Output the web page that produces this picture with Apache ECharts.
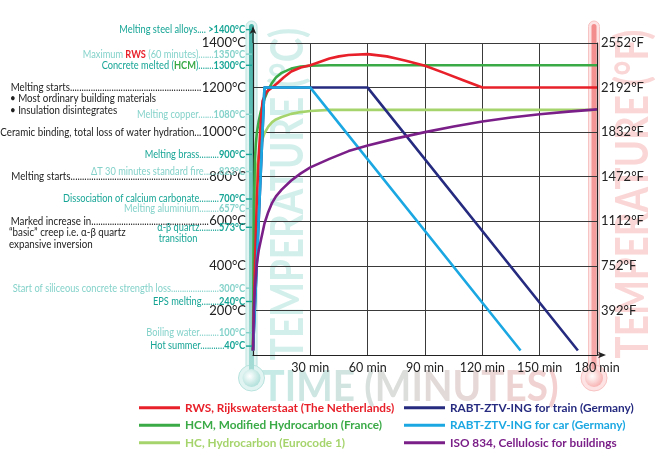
<!DOCTYPE html>
<html>
<head>
<meta charset="utf-8">
<script src="https://cdn.jsdelivr.net/npm/echarts@6/dist/echarts.min.js"></script>
<style>
  html, body { margin: 0; padding: 0; background: #fff; }
  #chart { width: 655px; height: 473px; }
</style>
</head>
<body>
<div id="chart"></div>
<script>
const FONT = 'Lato, "Noto Sans", sans-serif';

// time (min) / temperature (°C)
const rwsTime = [0, 1, 2, 3, 4, 5, 7, 10, 13, 16, 20, 25, 30, 40, 45, 50, 60, 70, 75, 80, 90, 100, 110, 120, 180];
const rwsTemp = [20, 400, 700, 890, 1040, 1140, 1180, 1200, 1222, 1245, 1272, 1290, 1300, 1330, 1340, 1346, 1350, 1340, 1330, 1320, 1298, 1266, 1233, 1200, 1200];

const hcmTime = [0, 0.5, 1, 1.5, 2, 3, 4, 5, 6, 8, 10, 12, 15, 20, 25, 30, 40, 180];
const hcmTemp = [20, 670, 877, 950, 996, 1050, 1090, 1120, 1150, 1190, 1222, 1245, 1266, 1285, 1294, 1298, 1300, 1300];

const hcTime = [0, 0.5, 1, 1.5, 2, 3, 4, 5, 6, 8, 10, 12, 15, 20, 25, 30, 40, 180];
const hcTemp = [20, 570, 740, 800, 845, 890, 935, 970, 995, 1025, 1045, 1057, 1068, 1082, 1090, 1095, 1100, 1100];

const trainTime = [0, 6, 60, 170];
const trainTemp = [20, 1200, 1200, 20];

const carTime = [0, 6, 30, 140];
const carTemp = [20, 1200, 1200, 20];

const isoTime = [0, 0.5, 1, 2, 3, 4, 5, 6, 8, 10, 12, 15, 20, 25, 30, 40, 50, 60, 75, 90, 105, 120, 135, 150, 165, 180];
const isoTemp = [20, 200, 300, 410, 470, 510, 550, 590, 642, 683, 712, 742, 783, 815, 842, 880, 915, 940, 972, 1000, 1025, 1048, 1066, 1080, 1092, 1102];

const timeLabels = ['', '30 min', '60 min', '90 min', '120 min', '150 min', '180 min'];
const celsiusLabels = ['', '200°C', '400°C', '600°C', '800°C', '1000°C', '1200°C', '1400°C'];
const fahrenheitLabels = ['', '392°F', '752°F', '1112°F', '1472°F', '1832°F', '2192°F', '2552°F'];

const seriesNames = [
  'RWS, Rijkswaterstaat (The Netherlands)',
  'HCM, Modified Hydrocarbon (France)',
  'HC, Hydrocarbon (Eurocode 1)',
  'RABT-ZTV-ING for train (Germany)',
  'RABT-ZTV-ING for car (Germany)',
  'ISO 834, Cellulosic for buildings'
];
const seriesColors = ['#e8202a', '#3aaa47', '#a6d46c', '#262b80', '#1ba8e2', '#7b1f88'];

// notes beside the °C axis: [temperature, text, value, shade]
const tealNotes = [
  [1460, 'Melting steel alloys.... ', '>1400°C', 'dark'],
  [1350, 'Maximum {r|RWS} (60 minutes).......', '1350°C', 'light'],
  [1300, 'Concrete melted ({g|HCM}).......', '1300°C', 'dark'],
  [1080, 'Melting copper.......', '1080°C', 'light'],
  [900, 'Melting brass.........', '900°C', 'dark'],
  [823, 'ΔT 30 minutes standard fire.......', '823°C', 'light'],
  [700, 'Dissociation of calcium carbonate.........', '700°C', 'dark'],
  [657, 'Melting aluminium.........', '657°C', 'light'],
  [573, 'α-β quartz.........', '573°C', 'dark'],
  [300, 'Start of siliceous concrete strength loss......................', '300°C', 'light'],
  [240, 'EPS melting........', '240°C', 'dark'],
  [100, 'Boiling water.........', '100°C', 'light'],
  [40, 'Hot summer...........', '40°C', 'dark']
];
// black notes running up to the axis labels: [temperature, text, extra lines]
const blackNotes = [
  [1200, 'Melting starts', ['• Most ordinary building materials', '• Insulation disintegrates']],
  [1000, 'Ceramic binding, total loss of water hydration', []],
  [800, 'Melting starts', []],
  [600, 'Marked increase in', ['“basic” creep i.e. α-β quartz', 'expansive inversion']]
];

const TEAL = { dark: '#17a596', light: '#84d2ca' };
const GRID = { left: 253, right: 58, top: 43, bottom: 118 };
const NARROW = 0.88;      // teal notes are set narrower than Lato
const BLACK_SCALE = 0.93; // black notes are a little wider

const chart = echarts.init(document.getElementById('chart'));

function pairs(xs, ys) {
  return xs.map((x, i) => [x, ys[i]]);
}

const lineData = [
  pairs(rwsTime, rwsTemp), pairs(hcmTime, hcmTemp), pairs(hcTime, hcTemp),
  pairs(trainTime, trainTemp), pairs(carTime, carTemp), pairs(isoTime, isoTemp)
];
const drawOrder = [2, 1, 0, 3, 4, 5];

const series = drawOrder.map((i) => ({
  name: seriesNames[i],
  type: 'line',
  data: lineData[i],
  showSymbol: false,
  symbol: 'none',
  color: seriesColors[i],
  lineStyle: { width: 2.6, color: seriesColors[i], join: 'round' },
  z: 3
}));

function legendItems(idx) {
  return idx.map((i) => ({ name: seriesNames[i], textStyle: { color: seriesColors[i] } }));
}

const legendBase = {
  orient: 'vertical',
  top: 401,
  padding: 0,
  icon: 'rect',
  itemWidth: 41,
  itemHeight: 3,
  itemGap: 4,
  selectedMode: false,
  textStyle: { fontFamily: FONT, fontSize: 11.8, fontWeight: 'bold', lineHeight: 13.5 }
};

const option = {
  animation: false,
  grid: GRID,
  legend: [
    Object.assign({}, legendBase, { left: 139, data: legendItems([0, 1, 2]) }),
    Object.assign({}, legendBase, { left: 404, data: legendItems([3, 4, 5]) })
  ],
  xAxis: {
    type: 'value',
    min: 0,
    max: 180,
    interval: 30,
    axisLine: {
      show: true,
      lineStyle: { color: '#222', width: 1.2 },
      symbol: ['none', 'arrow'],
      symbolSize: [5, 8],
      symbolOffset: [0, 9]
    },
    axisTick: { show: false },
    axisLabel: {
      fontFamily: FONT, fontSize: 12.5, color: '#222', margin: 6,
      formatter: (v) => timeLabels[Math.round(v / 30)]
    },
    splitLine: { show: true, lineStyle: { color: '#3a3a3a', width: 1 } }
  },
  yAxis: [
    {
      type: 'value',
      min: 0,
      max: 1400,
      interval: 200,
      axisLine: {
        show: true,
        lineStyle: { color: '#222', width: 1.2 },
        symbol: ['none', 'arrow'],
        symbolSize: [5, 8],
        symbolOffset: [0, 17]
      },
      axisTick: { show: false },
      axisLabel: {
        fontFamily: FONT, fontSize: 13, color: '#222', margin: 7,
        formatter: (v) => celsiusLabels[Math.round(v / 200)]
      },
      splitLine: { show: true, lineStyle: { color: '#3a3a3a', width: 1 } }
    },
    {
      type: 'value',
      position: 'right',
      min: 0,
      max: 1400,
      interval: 200,
      axisLine: { show: true, lineStyle: { color: '#222', width: 1.2 } },
      axisTick: { show: false },
      axisLabel: {
        fontFamily: FONT, fontSize: 13, color: '#222', margin: 4,
        formatter: (v) => fahrenheitLabels[Math.round(v / 200)]
      },
      splitLine: { show: false }
    }
  ],
  series: series
};

chart.setOption(option);

// ---- decorations and notes ----
const ctx = document.createElement('canvas').getContext('2d');
function textWidth(str, font) {
  ctx.font = font;
  return ctx.measureText(str).width;
}
const yPx = (t) => chart.convertToPixel({ yAxisIndex: 0 }, t);

const x0 = GRID.left;
const x1 = 655 - GRID.right;
const yBottom = 473 - GRID.bottom;
const yTop = GRID.top;

const graphics = [];

// faded big titles
graphics.push({
  type: 'text', x: 288, y: 194, rotation: Math.PI / 2, scaleX: 0.82, z: -20,
  style: { text: 'TEMPERATURE (°C)', font: 'bold 45px ' + FONT, fill: '#d3efeb', align: 'center', verticalAlign: 'middle' }
});
graphics.push({
  type: 'text', x: 633, y: 194, rotation: Math.PI / 2, scaleX: 0.82, z: -20,
  style: { text: 'TEMPERATURE (°F)', font: 'bold 45px ' + FONT, fill: '#fbd6d6', align: 'center', verticalAlign: 'middle' }
});
{
  const word = 'TIME (MINUTES)';
  const from = [198, 234, 229];
  const to = [244, 208, 208];
  const rich = {};
  let txt = '';
  for (let i = 0; i < word.length; i++) {
    const f = i / (word.length - 1);
    const c = from.map((v, k) => Math.round(v + (to[k] - v) * f));
    rich['c' + i] = { fill: 'rgb(' + c.join(',') + ')', font: 'bold 42px ' + FONT };
    txt += '{c' + i + '|' + (word[i] === ' ' ? '\u00a0' : word[i]) + '}';
  }
  graphics.push({
    type: 'text', x: 410, y: 387, scaleX: 0.92, z: -20,
    style: { text: txt, rich: rich, font: 'bold 42px ' + FONT, align: 'center', verticalAlign: 'middle' }
  });
}

// thermometers
function thermometer(cx, outer, border, top, bottom) {
  graphics.push({
    type: 'rect', z: -10,
    shape: { x: cx - 5.5, y: 21, width: 11, height: 350, r: 5.5 },
    style: { fill: outer, stroke: border, lineWidth: 1 }
  });
  graphics.push({
    type: 'circle', z: -10,
    shape: { cx: cx, cy: 378, r: 13 },
    style: { fill: outer, stroke: border, lineWidth: 1 }
  });
  graphics.push({
    type: 'rect', z: -9,
    shape: { x: cx - 2.5, y: 24, width: 5, height: 350, r: 2.5 },
    style: { fill: new echarts.graphic.LinearGradient(0, 0, 0, 1, [
      { offset: 0, color: top }, { offset: 1, color: bottom }
    ]) }
  });
  graphics.push({
    type: 'circle', z: -9,
    shape: { cx: cx, cy: 378, r: 9 },
    style: { fill: new echarts.graphic.RadialGradient(0.4, 0.4, 0.7, [
      { offset: 0, color: '#ffffff' }, { offset: 1, color: bottom }
    ]) }
  });
}
thermometer(251.5, '#e2f4f2', '#b9e3de', '#46b2a8', '#a6dcd6');
thermometer(594, '#fde3e3', '#f8c3c3', '#f38d8d', '#f7a9a9');

// axis extensions up to the arrows
graphics.push({ type: 'line', z: 5, shape: { x1: x0, y1: yTop, x2: x0, y2: yTop - 12 }, style: { stroke: '#222', lineWidth: 1.2 } });
graphics.push({ type: 'line', z: 5, shape: { x1: x1, y1: yBottom, x2: x1 + 4, y2: yBottom }, style: { stroke: '#222', lineWidth: 1.2 } });

// teal notes
const noteFont = 10.5;
tealNotes.forEach(([t, label, value, shade]) => {
  const y = yPx(t);
  const color = TEAL[shade];
  graphics.push({
    type: 'text', x: x0 - 8, y: y, scaleX: NARROW, z: 6,
    style: {
      text: label + '{v|' + value + '}',
      fill: color,
      fontFamily: FONT,
      fontSize: noteFont,
      align: 'right',
      verticalAlign: 'middle',
      rich: {
        v: { fill: color, fontFamily: FONT, fontSize: noteFont, fontWeight: 'bold' },
        r: { fill: seriesColors[0], fontFamily: FONT, fontSize: noteFont, fontWeight: 'bold' },
        g: { fill: seriesColors[1], fontFamily: FONT, fontSize: noteFont, fontWeight: 'bold' }
      }
    }
  });
  graphics.push({
    type: 'line', z: 6,
    shape: { x1: x0 - 7, y1: y, x2: x0 - 1, y2: y },
    style: { stroke: color, lineWidth: 1.4 }
  });
});
graphics.push({
  type: 'text', x: 178, y: yPx(573) + 11, scaleX: NARROW, z: 6,
  style: { text: 'transition', fill: TEAL.dark, fontFamily: FONT, fontSize: noteFont, align: 'center', verticalAlign: 'middle' }
});

// black notes with dotted leaders
const blackFont = noteFont + 'px ' + FONT;
const axisLabelFont = '13px ' + FONT;
blackNotes.forEach(([t, label, extra]) => {
  const y = yPx(t);
  const labelW = textWidth(celsiusLabels[Math.round(t / 200)], axisLabelFont);
  const right = x0 - 7 - labelW - 0.5;
  const left = 9;
  const dotW = textWidth('.', blackFont);
  const n = Math.max(3, Math.floor(((right - left) / BLACK_SCALE - textWidth(label, blackFont)) / dotW));
  graphics.push({
    type: 'text', x: right, y: y, scaleX: BLACK_SCALE, z: 6,
    style: { text: label + '.'.repeat(n), fill: '#222', font: blackFont, align: 'right', verticalAlign: 'middle' }
  });
  extra.forEach((line, k) => {
    graphics.push({
      type: 'text', x: line.startsWith('•') ? 10 : 9, y: y + 11.5 * (k + 1), scaleX: BLACK_SCALE, z: 6,
      style: { text: line, fill: '#222', font: blackFont, align: 'left', verticalAlign: 'middle' }
    });
  });
});

chart.setOption({ graphic: graphics });

window.addEventListener('resize', () => chart.resize());
</script>
</body>
</html>
